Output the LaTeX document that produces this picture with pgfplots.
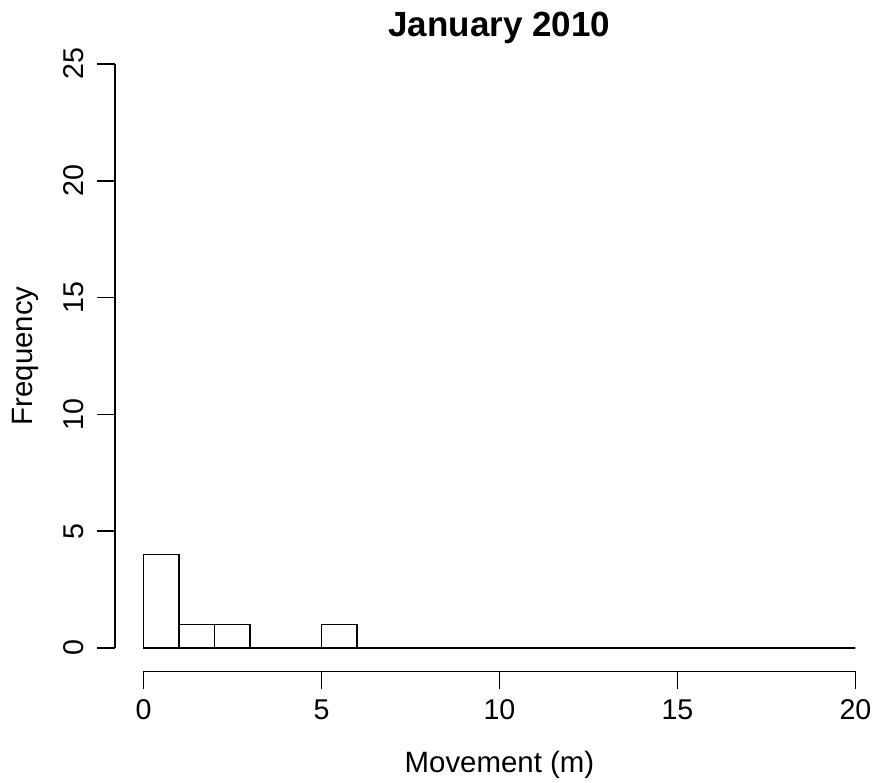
\documentclass[border=0pt]{standalone}
\usepackage{pgfplots}
\pgfplotsset{compat=1.18}
\usepackage{fontspec}
\setmainfont{Liberation Sans}
\begin{document}
\fontsize{14}{17}\selectfont
\begin{tikzpicture}
\begin{axis}[
  scale only axis,
  width=380pt, height=315.35pt,
  xmin=-0.8, xmax=20.55, ymin=-1, ymax=26,
  axis x line*=bottom, axis y line*=left,
  axis line style={draw=none},
  clip=false,
  xtick={0,5,10,15,20},
  ytick={0,5,10,15,20,25},
  tick align=outside,
  major tick length=9pt,
  tick style={black, line width=0.8pt},
  /pgf/number format/assume math mode=true,
  ticklabel style={font=\fontsize{14.3}{17}\selectfont},
  xticklabel style={anchor=north, inner sep=0pt, yshift=-5pt},
  yticklabel style={rotate=90, anchor=south, inner sep=0pt, yshift=6.5pt},
  xlabel={Movement (m)},
  ylabel={Frequency},
  label style={font=\fontsize{14.7}{17}\selectfont},
  xlabel style={at={(axis cs:10,-1)}, anchor=base, yshift=-50.8pt},
  ylabel style={at={(axis description cs:0,0.5)}, anchor=base, yshift=41pt},
]
\addplot[ybar interval, draw=black, fill=none, line width=0.8pt] coordinates {
(0,4) (1,1) (2,1) (3,0) (4,0) (5,1) (6,0) (7,0) (8,0) (9,0) (10,0)
(11,0) (12,0) (13,0) (14,0) (15,0) (16,0) (17,0) (18,0) (19,0) (20,0)
};
\draw[line width=0.8pt] (axis cs:0,-1) -- (axis cs:20,-1);
\draw[line width=0.8pt] (axis cs:-0.8,0) -- (axis cs:-0.8,25);
\node[anchor=base, font=\fontsize{17.5}{20}\selectfont\bfseries, inner sep=0pt] at (axis cs:10,26) [yshift=2pt] {January 2010};
\end{axis}
\pgfresetboundingbox
\path[use as bounding box] ([shift={(-57.5pt,-55.8pt)}]current axis.south west) rectangle ([shift={(0pt,20.3pt)}]current axis.north east);
\end{tikzpicture}
\end{document}
